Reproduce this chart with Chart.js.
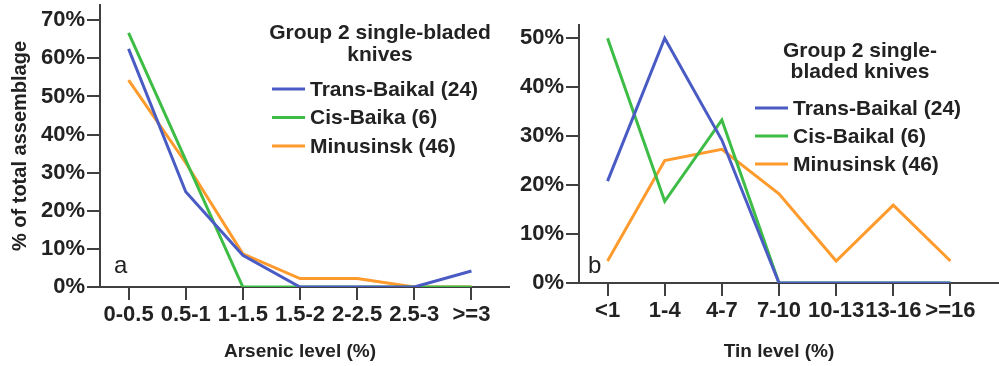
<!DOCTYPE html>
<html>
<head>
<meta charset="utf-8">
<script src="https://cdn.jsdelivr.net/npm/chart.js@4.4.1/dist/chart.umd.min.js"></script>
<style>
    html, body { margin: 0; padding: 0; background: #fff; }
    #wrap  { position: relative; width: 999px; height: 366px; overflow: hidden; }
    canvas { position: absolute; top: 0; }
    #chartA { left: 0; }
    #chartB { left: 500px; }
</style>
</head>
<body>
<div id="wrap">
    <canvas id="chartA" width="510" height="366"></canvas>
    <canvas id="chartB" width="499" height="366"></canvas>
</div>
<script>
/* ── Data ── */

const arsenicLevels = ['0-0.5', '0.5-1', '1-1.5', '1.5-2', '2-2.5', '2.5-3', '>=3'];
const tinLevels     = ['<1', '1-4', '4-7', '7-10', '10-13', '13-16', '>=16'];

const seriesNamesA  = ['Trans-Baikal (24)', 'Cis-Baika (6)', 'Minusinsk (46)'];
const seriesNamesB  = ['Trans-Baikal (24)', 'Cis-Baikal (6)', 'Minusinsk (46)'];

// % of total assemblage, arsenic
const arsenicTrans  = [62.5, 25.0, 8.3, 0, 0, 0, 4.2];
const arsenicCis    = [66.7, 33.3, 0, 0, 0, 0, 0];
const arsenicMinu   = [54.3, 32.6, 8.7, 2.2, 2.2, 0, 0];

// % of total assemblage, tin
const tinTrans      = [20.8, 50.0, 29.2, 0, 0, 0, 0];
const tinCis        = [50.0, 16.7, 33.3, 0, 0, 0, 0];
const tinMinu       = [4.5, 25.0, 27.3, 18.2, 4.5, 15.9, 4.5];

const yTicksA       = [0, 10, 20, 30, 40, 50, 60, 70];
const yTicksB       = [0, 10, 20, 30, 40, 50];

const lineColors    = ['#4a5cc4', '#3dbd45', '#ff9a2c'];

/* ── Helpers ── */

const FONT   = `'Liberation Sans', Arial, sans-serif`;
const AXIS   = '#404040';
const INK    = '#222';

const boxLegendPlugin = {
    id: 'boxLegend',
    afterDraw(chart) {
        const opts = chart.options.plugins.boxLegend;
        if (!opts) return;
        const { ctx, chartArea } = chart;
        ctx.save();

        // x axis line runs on past the last category
        ctx.strokeStyle = AXIS;
        ctx.lineWidth   = 2;
        ctx.beginPath();
        ctx.moveTo(chartArea.right, chartArea.bottom);
        ctx.lineTo(chart.width, chartArea.bottom);
        ctx.stroke();

        ctx.fillStyle    = INK;
        ctx.textBaseline = 'middle';
        ctx.font         = `bold 21px ${FONT}`;
        ctx.textAlign    = 'center';
        opts.title.forEach((line, i) => ctx.fillText(line, opts.titleX, opts.titleY + i * opts.titleGap));

        ctx.textAlign = 'left';
        chart.data.datasets.forEach((ds, i) => {
            const y = opts.itemY + i * opts.itemGap;
            ctx.strokeStyle = ds.borderColor;
            ctx.lineWidth   = 3;
            ctx.beginPath();
            ctx.moveTo(opts.lineX, y);
            ctx.lineTo(opts.lineX + 33, y);
            ctx.stroke();
            ctx.fillStyle = INK;
            ctx.fillText(ds.label, opts.lineX + 38, y + 1);
        });

        ctx.font = `24px ${FONT}`;
        ctx.fillText(opts.letter, opts.letterX, opts.letterY);
        ctx.restore();
    }
};

function makeLineChart(canvasId, labels, names, values, yTicks, cfg) {
    const canvas = document.getElementById(canvasId);
    return new Chart(canvas.getContext('2d'), {
        type:    'line',
        plugins: [boxLegendPlugin],
        data: {
            labels,
            datasets: values.map((v, i) => ({
                label:       names[i],
                data:        v,
                borderColor: lineColors[i],
                borderWidth: 3,
                pointRadius: 0,
                tension:     0,
            })),
        },
        options: {
            responsive: false,
            animation:  false,
            events:     [],
            layout:     { padding: cfg.padding },
            scales: {
                x: {
                    offset: true,
                    grid:   { offset: false, drawOnChartArea: false, tickLength: 13, color: AXIS, lineWidth: 2 },
                    border: { color: AXIS, width: 2 },
                    ticks:  { color: INK, font: { family: FONT, size: 22, weight: 'bold' }, padding: 2, maxRotation: 0, autoSkip: false },
                    title:  { display: true, text: cfg.xTitle, color: INK, font: { family: FONT, size: 19, weight: 'bold' }, padding: { top: 0, bottom: 3 } },
                    afterFit(scale) { scale.height = cfg.xHeight; },
                },
                y: {
                    min: 0,
                    max: cfg.yMax,
                    grid:   { drawOnChartArea: false, tickLength: 13, color: AXIS, lineWidth: 2 },
                    border: { color: AXIS, width: 2 },
                    ticks:  {
                        color: INK, font: { family: FONT, size: 22, weight: 'bold' }, padding: 2, stepSize: 10, includeBounds: false,
                        callback: v => yTicks.includes(v) ? `${v}%` : null,
                    },
                    title:  { display: !!cfg.yTitle, text: cfg.yTitle, color: INK, font: { family: FONT, size: 20, weight: 'bold' }, padding: { top: 8, bottom: 0 } },
                    afterFit(scale) {
                        scale.width       = cfg.yWidth;
                        scale.paddingTop  = 0;
                    },
                },
            },
            plugins: {
                legend:    { display: false },
                tooltip:   { enabled: false },
                boxLegend: cfg.legend,
            },
        },
    });
}

/* ── Charts ── */

makeLineChart('chartA', arsenicLevels, seriesNamesA, [arsenicTrans, arsenicCis, arsenicMinu], yTicksA, {
    padding: { left: 0, right: 10, top: 5, bottom: 0 },
    yMax:    74,
    yWidth:  100,
    xHeight: 79,
    xTitle:  'Arsenic level (%)',
    yTitle:  '% of total assemblage',
    legend:  {
        title: ['Group 2 single-bladed', 'knives'], titleX: 380, titleY: 33, titleGap: 22,
        lineX: 272, itemY: 89, itemGap: 28.5,
        letter: 'a', letterX: 114, letterY: 266,
    },
});

makeLineChart('chartB', tinLevels, seriesNamesB, [tinTrans, tinCis, tinMinu], yTicksB, {
    padding: { left: 0, right: 20, top: 25, bottom: 0 },
    yMax:    52.7,
    yWidth:  79,
    xHeight: 83,
    xTitle:  'Tin level (%)',
    yTitle:  '',
    legend:  {
        title: ['Group 2 single-', 'bladed knives'], titleX: 360, titleY: 51, titleGap: 21,
        lineX: 255, itemY: 108, itemGap: 28,
        letter: 'b', letterX: 88, letterY: 266,
    },
});
</script>
</body>
</html>
